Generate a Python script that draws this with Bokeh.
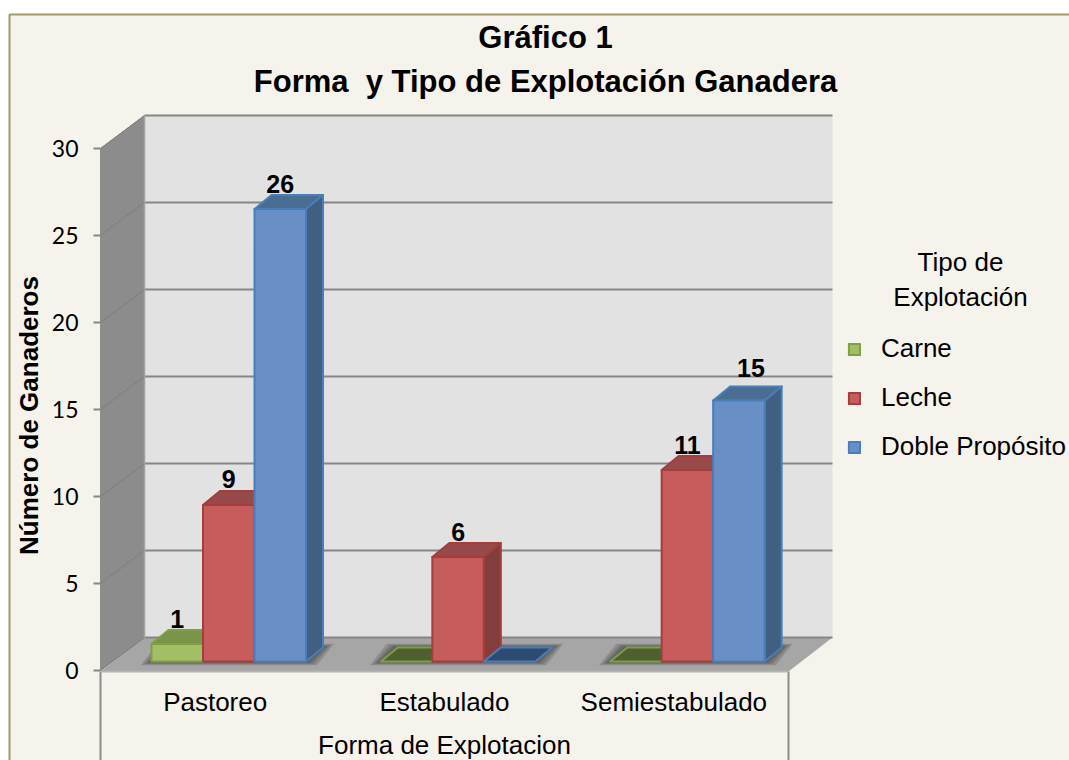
from bokeh.plotting import figure
from bokeh.models import (Range1d, LinearAxis, FixedTicker, ColumnDataSource, Label, Legend, LegendItem,
                          BoxAnnotation)
from bokeh.core.properties import value
from bokeh.embed import file_html
from bokeh.resources import INLINE

categories = ["Pastoreo", "Estabulado", "Semiestabulado"]
series_names = ["Carne", "Leche", "Doble Propósito"]
carne = [1, 0, 0]
leche = [9, 6, 11]
doble = [26, 0, 15]
y_ticks = [0, 5, 10, 15, 20, 25, 30]
title_lines = ["Gráfico 1", "Forma\u00a0 y Tipo de Explotación Ganadera"]
y_title = "Número de Ganaderos"
x_title = "Forma de Explotacion"
legend_title = ["Tipo de", "Explotación"]

XS = 229.33   # px per category
YS = 17.4     # px per y unit
def dx(px): return px / XS
def dy(px): return px / YS

W, H = 1069, 760
FONT = "Liberation Sans"
CREAM = "#F6F3EC"

p = figure(width=W, height=H, output_backend="svg", toolbar_location=None,
           x_range=Range1d(dx(0 - 100), dx(W - 100)), y_range=Range1d(dy(670 - H), dy(670)),
           x_axis_type=None, y_axis_type=None,
           min_border_left=0, min_border_right=0, min_border_top=0, min_border_bottom=0,
           background_fill_color=None, border_fill_color="white", outline_line_color=None)
p.grid.visible = False

p.add_layout(BoxAnnotation(left=9, right=W + 20, top=H - 14, bottom=-20,
                           left_units="screen", right_units="screen", top_units="screen", bottom_units="screen",
                           fill_color=CREAM, fill_alpha=1, line_color="#A39A66", line_alpha=1, line_width=2,
                           level="underlay"))

# walls and floor
DX, DY = dx(44), dy(33)
n = len(categories)
top = max(y_ticks)
FLOOR_Y = -dy(1)
p.patch([0, DX, DX, 0], [0, DY, DY + top, top], fill_color="#8C8C8C", line_color="#8C8C8C", line_width=1)
p.quad(left=[DX], right=[n + DX], bottom=[DY], top=[DY + top], fill_color="#E2E2E2", line_color=None)
p.patch([0, n, n + DX, DX], [FLOOR_Y, FLOOR_Y, DY, DY], fill_color="#A6A6A6", line_color=None)
p.segment(x0=[0] * len(y_ticks), x1=[DX] * len(y_ticks), y0=y_ticks, y1=[t + DY for t in y_ticks],
          line_color="#7C7C7C", line_width=1)
p.segment(x0=[DX] * len(y_ticks), x1=[n + DX] * len(y_ticks), y0=[t + DY for t in y_ticks],
          y1=[t + DY for t in y_ticks], line_color="#868686", line_width=2)
p.segment(x0=[DX], x1=[DX], y0=[DY], y1=[DY + top], line_color="#A2A2A2", line_width=1.5)
# box around the category axis
p.segment(x0=[0, n], x1=[0, n], y0=[FLOOR_Y, FLOOR_Y], y1=[dy(670 - 765)] * 2, line_color="#8C8C8C", line_width=2)

# bars
BASE = dy(9)
BW = dx(51.5)
G0 = dx(51)
DEPX, DEPY = dx(17), dy(14)
styles = [
    dict(front="#A3BF65", line="#7F9F42", topc="#7A9449", side="#6A8040", flat="#4F6030"),
    dict(front="#C75C5C", line="#A33E3C", topc="#984A4A", side="#843D3D", flat="#6E2E2E"),
    dict(front="#688FC6", line="#4A7EBB", topc="#4A6D94", side="#415F80", flat="#2D4A70"),
]
values = [carne, leche, doble]

# soft shadows on the floor
for c in range(n):
    x0 = c + G0
    x1 = x0 + 3 * BW
    for e in (11, 8, 5, 2):
        ex, ey = dx(e), dy(e * 0.35)
        p.patch([x0 - ex, x1 + ex, x1 + DEPX + ex, x0 + DEPX - ex],
                [BASE - ey, BASE - ey, BASE + DEPY + ey, BASE + DEPY + ey],
                fill_color="black", fill_alpha=0.14, line_color=None)

legend_items = []
for s, vals in enumerate(values):
    st = styles[s]
    lefts = [c + G0 + s * BW for c in range(n)]
    rights = [l + BW for l in lefts]
    tops = [BASE + v for v in vals]
    for l, r, t, v in zip(lefts, rights, tops, vals):
        p.patch([l, r, r + DEPX, l + DEPX], [t, t, t + DEPY, t + DEPY],
                fill_color=st["topc"] if v > 0 else st["flat"], line_color=st["line"], line_width=2,
                line_join="round")
        if v > 0:
            p.patch([r, r + DEPX, r + DEPX, r], [BASE, BASE + DEPY, t + DEPY, t],
                    fill_color=st["side"], line_color=st["line"], line_width=2, line_join="round")
    keep = [i for i, v in enumerate(vals) if v > 0]
    src = ColumnDataSource(dict(left=[lefts[i] for i in keep], right=[rights[i] for i in keep],
                                top=[tops[i] for i in keep], bottom=[BASE] * len(keep)))
    q = p.quad(left="left", right="right", top="top", bottom="bottom", source=src,
               fill_color=st["front"], line_color=st["line"], line_width=2, line_join="round")
    legend_items.append(LegendItem(label=series_names[s], renderers=[q]))

# data labels
lx, ly, lt, lxo, lyo = [], [], [], [], []
for s, vals in enumerate(values):
    for c, v in enumerate(vals):
        if v > 0:
            lx.append(c + G0 + (s + 0.5) * BW)
            ly.append(BASE + v + DEPY)
            lt.append(str(v))
            moved = (s == 2 and c == 2)
            lxo.append(12 if moved else 0)
            lyo.append(-19 if moved else -11.5)
p.text(x=lx, y=ly, text=lt, x_offset=lxo, y_offset=lyo, text_align="center", text_baseline="alphabetic",
       text_font=value(FONT), text_font_style="bold", text_font_size="25px", text_color="black")

# axes
ya = LinearAxis(ticker=FixedTicker(ticks=y_ticks), fixed_location=0, bounds=(-0.7, 30), axis_line_color=None,
                major_tick_line_color="#868686",
                major_tick_line_width=2, major_tick_in=0, major_tick_out=7, minor_tick_line_color=None,
                major_label_text_font="Lato", major_label_text_font_size="23px", major_label_text_color="black",
                major_label_standoff=15, axis_label=y_title, axis_label_text_font=FONT,
                axis_label_text_font_style="bold", axis_label_text_font_size="26px", axis_label_text_color="black",
                axis_label_standoff=5)
p.add_layout(ya, "left")

xa = LinearAxis(ticker=FixedTicker(ticks=[c + 0.5 for c in range(n)]), fixed_location=FLOOR_Y, bounds=(0, n),
                major_label_overrides={c + 0.5: categories[c] for c in range(n)},
                axis_line_color="#B4B4B4", axis_line_width=2,
                major_tick_line_color=None, major_tick_in=0, major_tick_out=0,
                minor_tick_line_color=None,
                major_label_text_font=FONT, major_label_text_font_size="26px", major_label_text_color="black",
                major_label_standoff=15, axis_label=x_title, axis_label_text_font=FONT,
                axis_label_text_font_style="normal", axis_label_text_font_size="26px", axis_label_text_color="black",
                axis_label_standoff=10)
p.add_layout(xa, "below")

# title
for txt, sy in zip(title_lines, (37, 81)):
    p.add_layout(Label(x=545, y=H - sy, x_units="screen", y_units="screen", text=txt,
                       text_align="center", text_baseline="middle", text_font=FONT, text_font_style="bold",
                       text_font_size="31px", text_color="black"))

# legend
leg = Legend(items=legend_items, location=(847, 298), orientation="vertical", padding=0, margin=0,
             background_fill_color=None, border_line_color=None, glyph_width=14, glyph_height=14,
             label_standoff=20, spacing=18, label_text_font=FONT, label_text_font_size="26px",
             label_text_color="black")
p.add_layout(leg, "center")
for txt, sy in zip(legend_title, (261, 296)):
    p.add_layout(Label(x=960, y=H - sy, x_units="screen", y_units="screen", text=txt,
                       text_align="center", text_baseline="middle", text_font=FONT, text_font_size="26px",
                       text_color="black"))

open("out.html", "w").write(file_html(p, INLINE))
